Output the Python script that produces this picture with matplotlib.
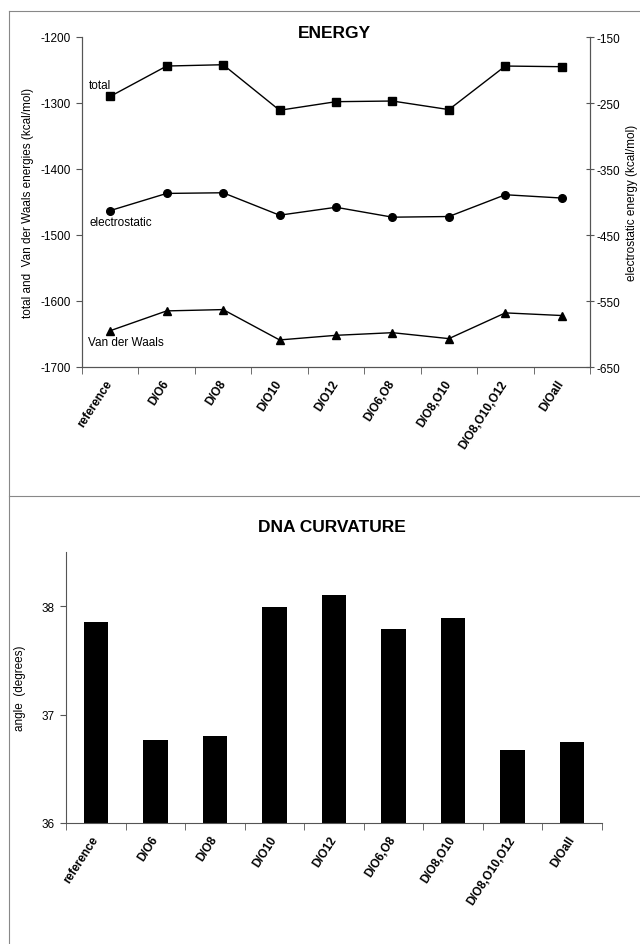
import matplotlib
matplotlib.use("Agg")
import matplotlib.pyplot as plt
from matplotlib.lines import Line2D
import numpy as np

plt.rcParams['font.family'] = ['Liberation Sans', 'DejaVu Sans']
plt.rcParams['axes.unicode_minus'] = False

categories = ["reference", "D/O6", "D/O8", "D/O10", "D/O12",
              "D/O6,O8", "D/O8,O10", "D/O8,O10,O12", "D/Oall"]
total = [-1290, -1244, -1242, -1311, -1298, -1297, -1310, -1244, -1245]
vdw = [-1645, -1615, -1613, -1659, -1652, -1648, -1657, -1618, -1622]
electrostatic = [-413, -387, -386, -420, -408, -423, -422, -389, -394]
curvature = [37.85, 36.77, 36.80, 37.99, 38.10, 37.79, 37.89, 36.67, 36.75]

W, H = 640, 945
fig = plt.figure(figsize=(W / 100, H / 100), dpi=100)
fig.patch.set_facecolor("white")

def rect(x0, y0, x1, y1):
    # pixel box (top-left origin) -> figure fraction
    return [x0 / W, 1 - y1 / H, (x1 - x0) / W, (y1 - y0) / H]

axis_col = "#555555"
x = np.arange(len(categories))

def style_x(ax):
    ax.set_xlim(-0.5, len(categories) - 0.5)
    ax.set_xticks(x)
    ax.set_xticks(np.arange(len(categories) + 1) - 0.5, minor=True)
    ax.tick_params(axis="x", which="major", length=0, pad=10)
    ax.tick_params(axis="x", which="minor", length=5, direction="out", color=axis_col)
    ax.set_xticklabels(categories, rotation=57, ha="right", va="center",
                       rotation_mode="anchor", fontsize=8.5, fontweight="bold")

# ---- ENERGY ----
ax1 = fig.add_axes(rect(82, 38, 590, 368))
ax1.plot(x, total, color="black", lw=1, marker="s", ms=5.5)
ax1.plot(x, vdw, color="black", lw=1, marker="^", ms=6)
ax1.set_ylim(-1700, -1200)
ax1.set_yticks(np.arange(-1700, -1199, 100))
ax1.tick_params(axis="y", length=4, color=axis_col, labelsize=8.5, pad=4)
ax1.set_ylabel("total and  Van der Waals energies (kcal/mol)", fontsize=8.5)
ax1.yaxis.set_label_coords((34 - 82) / 508, 0.5)
style_x(ax1)

ax2 = ax1.twinx()
ax2.plot(x, electrostatic, color="black", lw=1, marker="o", ms=5.5)
ax2.set_ylim(-650, -150)
ax2.set_yticks(np.arange(-650, -149, 100))
ax2.tick_params(axis="y", length=6, direction="inout", color=axis_col, labelsize=8.5, pad=2)
ax2.set_ylabel("electrostatic energy (kcal/mol)", fontsize=8.5)
ax2.yaxis.set_label_coords((626 - 82) / 508, 0.5)

for a in (ax1, ax2):
    a.spines["top"].set_visible(False)
    for s in ("left", "right", "bottom"):
        a.spines[s].set_color(axis_col)
        a.spines[s].set_linewidth(0.8)

ax1.annotate("total", (x[0], total[0]), xytext=(-21, 11), textcoords="offset pixels",
             fontsize=8.5, ha="left", va="center")
ax2.annotate("electrostatic", (x[0], electrostatic[0]), xytext=(-21, -11),
             textcoords="offset pixels", fontsize=8.5, ha="left", va="center")
ax1.annotate("Van der Waals", (x[0], vdw[0]), xytext=(-22, -11), textcoords="offset pixels",
             fontsize=8.5, ha="left", va="center")

fig.text(334 / W, 1 - 33 / H, "ENERGY", ha="center", va="center",
         fontsize=12.5, fontweight="bold")

# ---- DNA CURVATURE ----
ax3 = fig.add_axes(rect(66, 553, 602, 824))
ax3.bar(x, np.array(curvature) - 36, bottom=36, width=0.41, color="black")
ax3.set_ylim(36, 38.5)
ax3.set_yticks([36, 37, 38])
ax3.tick_params(axis="y", length=4, color=axis_col, labelsize=8.5, pad=4)
ax3.set_ylabel("angle  (degrees)", fontsize=8.5)
ax3.yaxis.set_label_coords((26 - 66) / 536, 0.5)
style_x(ax3)
for s in ("top", "right"):
    ax3.spines[s].set_visible(False)
for s in ("left", "bottom"):
    ax3.spines[s].set_color(axis_col)
    ax3.spines[s].set_linewidth(0.8)

fig.text(332 / W, 1 - 528 / H, "DNA CURVATURE", ha="center", va="center",
         fontsize=12.5, fontweight="bold")

# page frame lines
fc = "#888888"
fig.add_artist(Line2D([9 / W, 1], [1 - 12 / H] * 2, color=fc, lw=0.8))
fig.add_artist(Line2D([9 / W, 1], [1 - 497 / H] * 2, color=fc, lw=0.8))
fig.add_artist(Line2D([9 / W] * 2, [0, 1 - 12 / H], color=fc, lw=0.8))

fig.savefig("out.png", dpi=100)
